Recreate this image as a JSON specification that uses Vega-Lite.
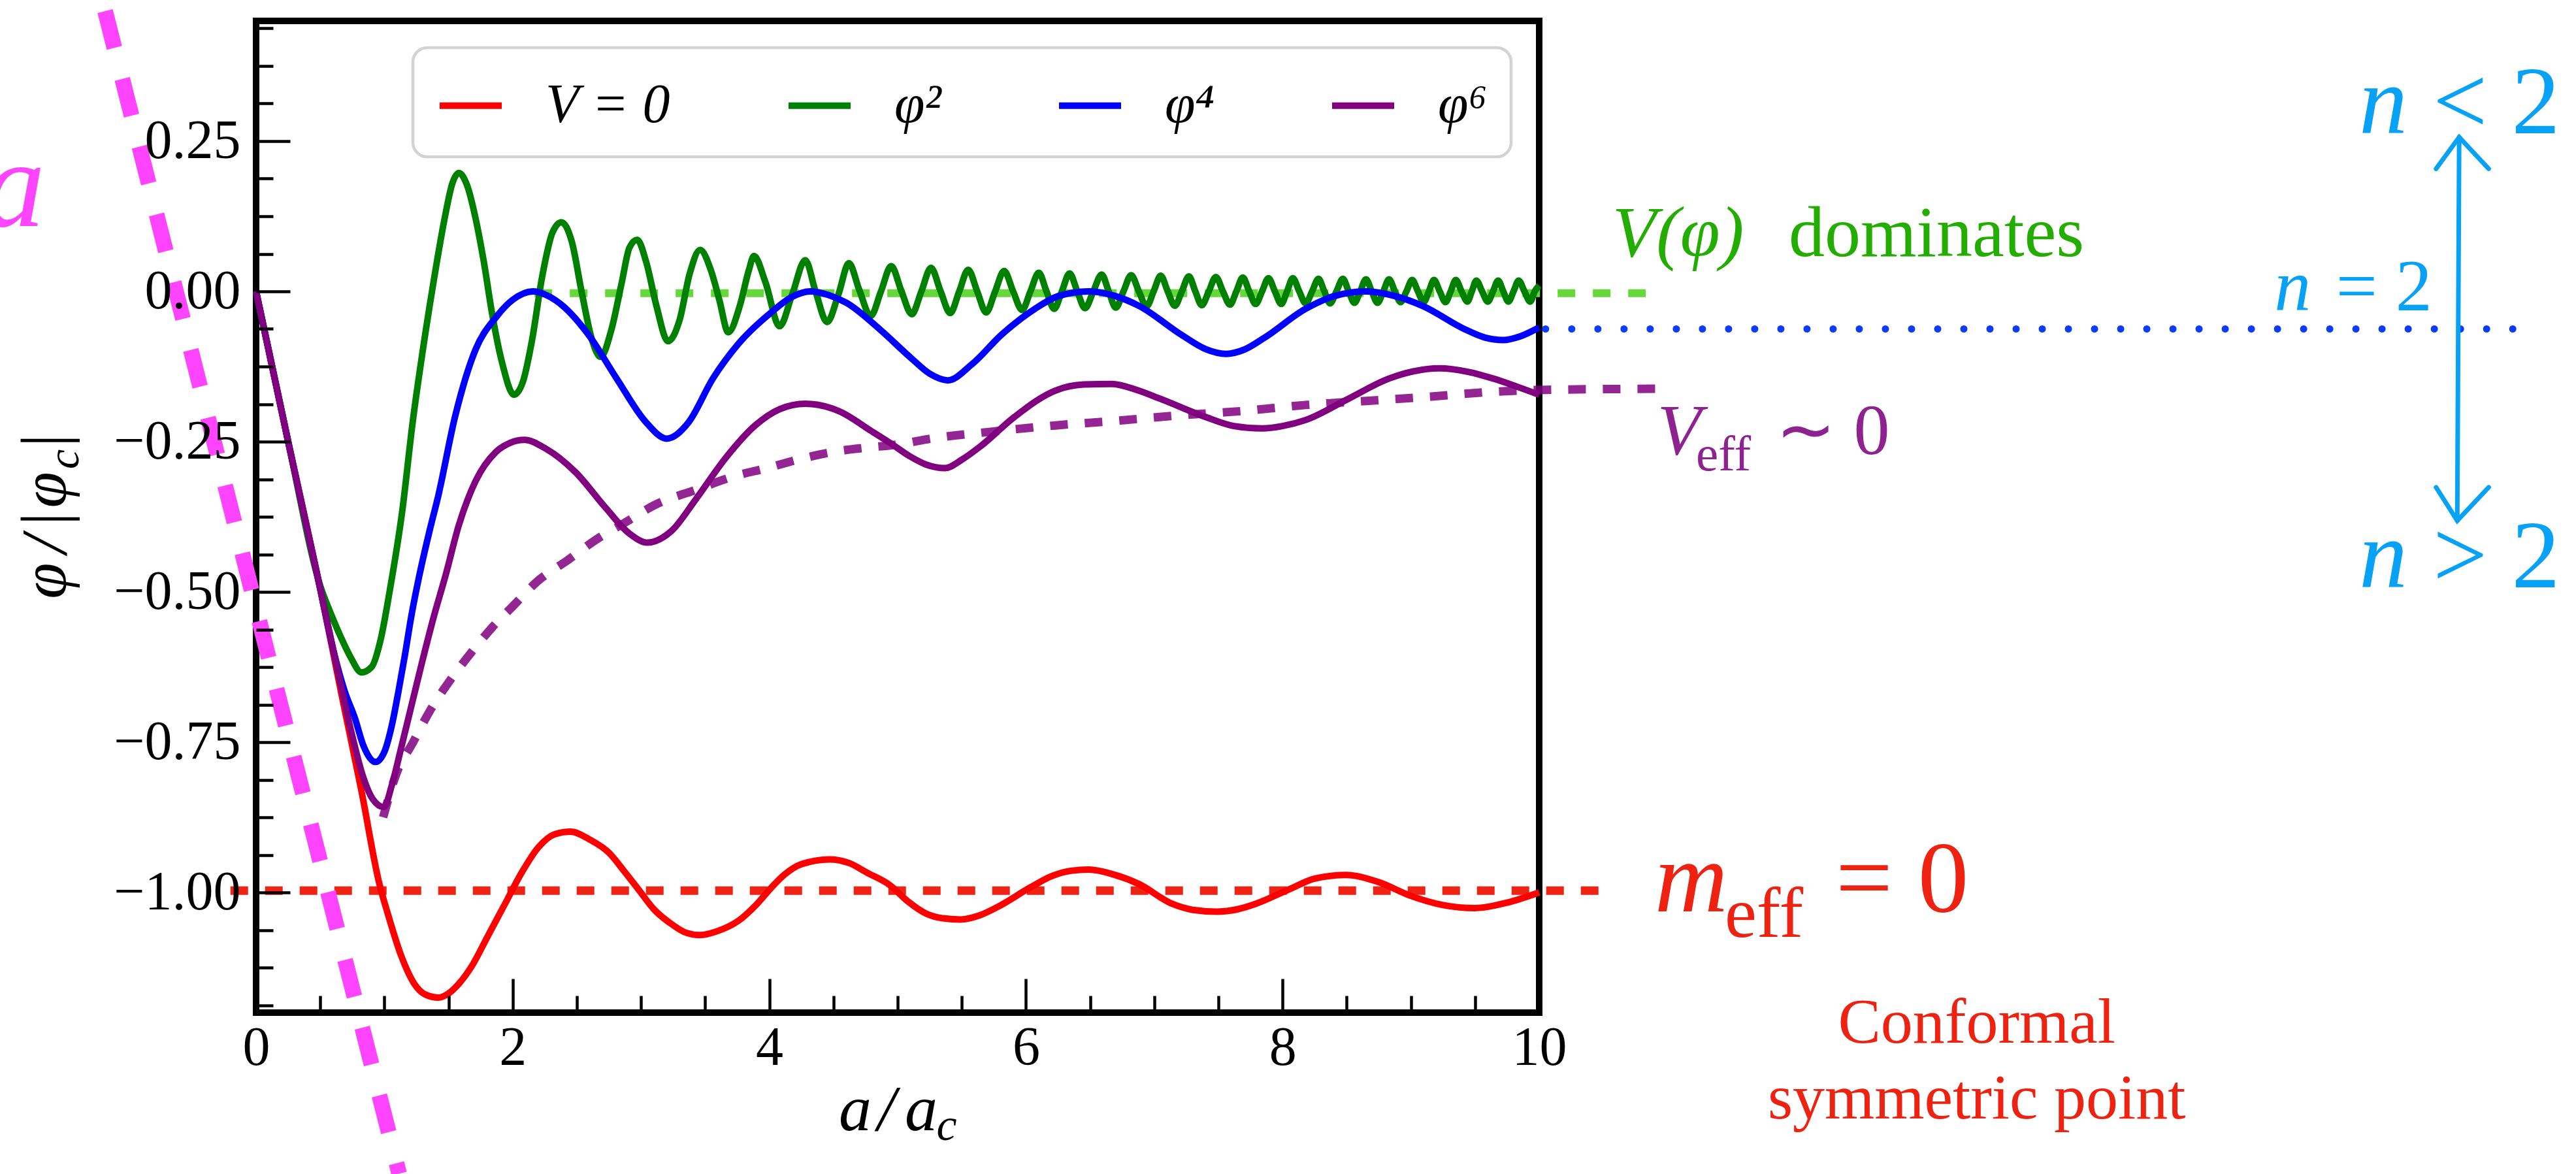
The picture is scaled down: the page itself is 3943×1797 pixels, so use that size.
{
"$schema": "https://vega.github.io/schema/vega-lite/v6.json",
"width": 1964, "height": 1518,
"autosize": {"type": "none"},
"padding": {"left": 392, "top": 32, "right": 1587, "bottom": 247},
"background": "white",
"config": {"view": {"stroke": "black", "strokeWidth": 10}, "legend": {"strokeWidth": 4.5}},
"datasets": {
"gx": [{"x":0.5},{"x":1},{"x":1.5},{"x":2},{"x":2.5},{"x":3},{"x":3.5},{"x":4},{"x":4.5},{"x":5},{"x":5.5},{"x":6},{"x":6.5},{"x":7},{"x":7.5},{"x":8},{"x":8.5},{"x":9},{"x":9.5}],
"gy": [{"y":-1.1875},{"y":-1.125},{"y":-1.0625},{"y":-1},{"y":-0.9375},{"y":-0.875},{"y":-0.8125},{"y":-0.75},{"y":-0.6875},{"y":-0.625},{"y":-0.5625},{"y":-0.5},{"y":-0.4375},{"y":-0.375},{"y":-0.3125},{"y":-0.25},{"y":-0.1875},{"y":-0.125},{"y":-0.0625},{"y":0},{"y":0.0625},{"y":0.125},{"y":0.1875},{"y":0.25},{"y":0.3125},{"y":0.375},{"y":0.4375}],
"curves": [
{"s":"V = 0","x":0,"y":0},{"s":"V = 0","x":0.25,"y":-0.25},{"s":"V = 0","x":0.5,"y":-0.495},{"s":"V = 0","x":0.67,"y":-0.675},{"s":"V = 0","x":0.82,"y":-0.83},{"s":"V = 0","x":0.96,"y":-0.985},{"s":"V = 0","x":1.03,"y":-1.038},{"s":"V = 0","x":1.13,"y":-1.105},{"s":"V = 0","x":1.23,"y":-1.151},{"s":"V = 0","x":1.32,"y":-1.17},{"s":"V = 0","x":1.42,"y":-1.175},{"s":"V = 0","x":1.5,"y":-1.168},{"s":"V = 0","x":1.58,"y":-1.152},{"s":"V = 0","x":1.68,"y":-1.123},{"s":"V = 0","x":1.81,"y":-1.071},{"s":"V = 0","x":1.94,"y":-1.019},{"s":"V = 0","x":2.07,"y":-0.967},{"s":"V = 0","x":2.2,"y":-0.925},{"s":"V = 0","x":2.33,"y":-0.903},{"s":"V = 0","x":2.45,"y":-0.899},{"s":"V = 0","x":2.6,"y":-0.912},{"s":"V = 0","x":2.75,"y":-0.934},{"s":"V = 0","x":2.87,"y":-0.965},{"s":"V = 0","x":2.98,"y":-0.995},{"s":"V = 0","x":3.1,"y":-1.028},{"s":"V = 0","x":3.24,"y":-1.053},{"s":"V = 0","x":3.35,"y":-1.067},{"s":"V = 0","x":3.46,"y":-1.071},{"s":"V = 0","x":3.6,"y":-1.064},{"s":"V = 0","x":3.76,"y":-1.047},{"s":"V = 0","x":3.9,"y":-1.02},{"s":"V = 0","x":4.02,"y":-0.991},{"s":"V = 0","x":4.12,"y":-0.97},{"s":"V = 0","x":4.25,"y":-0.953},{"s":"V = 0","x":4.47,"y":-0.945},{"s":"V = 0","x":4.62,"y":-0.951},{"s":"V = 0","x":4.76,"y":-0.967},{"s":"V = 0","x":4.94,"y":-0.988},{"s":"V = 0","x":5.08,"y":-1.015},{"s":"V = 0","x":5.22,"y":-1.035},{"s":"V = 0","x":5.35,"y":-1.043},{"s":"V = 0","x":5.49,"y":-1.045},{"s":"V = 0","x":5.64,"y":-1.038},{"s":"V = 0","x":5.78,"y":-1.024},{"s":"V = 0","x":6.04,"y":-0.991},{"s":"V = 0","x":6.2,"y":-0.973},{"s":"V = 0","x":6.35,"y":-0.964},{"s":"V = 0","x":6.49,"y":-0.962},{"s":"V = 0","x":6.68,"y":-0.97},{"s":"V = 0","x":6.88,"y":-0.986},{"s":"V = 0","x":7.14,"y":-1.019},{"s":"V = 0","x":7.3,"y":-1.029},{"s":"V = 0","x":7.49,"y":-1.032},{"s":"V = 0","x":7.65,"y":-1.028},{"s":"V = 0","x":7.79,"y":-1.019},{"s":"V = 0","x":8.05,"y":-0.995},{"s":"V = 0","x":8.25,"y":-0.977},{"s":"V = 0","x":8.49,"y":-0.971},{"s":"V = 0","x":8.75,"y":-0.983},{"s":"V = 0","x":8.99,"y":-1.005},{"s":"V = 0","x":9.25,"y":-1.021},{"s":"V = 0","x":9.5,"y":-1.026},{"s":"V = 0","x":9.75,"y":-1.017},{"s":"V = 0","x":10,"y":-1.0},
{"s":"φ²","x":0,"y":0},{"s":"φ²","x":0.25,"y":-0.25},{"s":"φ²","x":0.5,"y":-0.49},{"s":"φ²","x":0.58,"y":-0.535},{"s":"φ²","x":0.66,"y":-0.575},{"s":"φ²","x":0.74,"y":-0.61},{"s":"φ²","x":0.82,"y":-0.634},{"s":"φ²","x":0.9,"y":-0.625},{"s":"φ²","x":0.97,"y":-0.58},{"s":"φ²","x":1.04,"y":-0.5},{"s":"φ²","x":1.14,"y":-0.364},{"s":"φ²","x":1.22,"y":-0.218},{"s":"φ²","x":1.3,"y":-0.097},{"s":"φ²","x":1.39,"y":0.025},{"s":"φ²","x":1.47,"y":0.122},{"s":"φ²","x":1.53,"y":0.18},{"s":"φ²","x":1.58,"y":0.197},{"s":"φ²","x":1.645,"y":0.176},{"s":"φ²","x":1.71,"y":0.122},{"s":"φ²","x":1.775,"y":0.049},{"s":"φ²","x":1.84,"y":-0.038},{"s":"φ²","x":1.92,"y":-0.121},{"s":"φ²","x":2.01,"y":-0.172},{"s":"φ²","x":2.08,"y":-0.15},{"s":"φ²","x":2.15,"y":-0.082},{"s":"φ²","x":2.23,"y":0.025},{"s":"φ²","x":2.31,"y":0.098},{"s":"φ²","x":2.38,"y":0.115},{"s":"φ²","x":2.46,"y":0.083},{"s":"φ²","x":2.54,"y":-0.004},{"s":"φ²","x":2.62,"y":-0.082},{"s":"φ²","x":2.685,"y":-0.109},{"s":"φ²","x":2.77,"y":-0.063},{"s":"φ²","x":2.85,"y":0.015},{"s":"φ²","x":2.91,"y":0.073},{"s":"φ²","x":2.97,"y":0.086},{"s":"φ²","x":3.04,"y":0.049},{"s":"φ²","x":3.12,"y":-0.024},{"s":"φ²","x":3.21,"y":-0.083},{"s":"φ²","x":3.3,"y":-0.048},{"s":"φ²","x":3.38,"y":0.03},{"s":"φ²","x":3.46,"y":0.069},{"s":"φ²","x":3.545,"y":0.035},{"s":"φ²","x":3.61,"y":-0.014},{"s":"φ²","x":3.68,"y":-0.068},{"s":"φ²","x":3.77,"y":-0.024},{"s":"φ²","x":3.84,"y":0.035},{"s":"φ²","x":3.88,"y":0.059},{"s":"φ²","x":3.97,"y":0.015},{"s":"φ²","x":4.08,"y":-0.058},{"s":"φ²","x":4.18,"y":-0.004},{"s":"φ²","x":4.28,"y":0.052},{"s":"φ²","x":4.36,"y":0.0},{"s":"φ²","x":4.45,"y":-0.051},{"s":"φ²","x":4.54,"y":-0.004},{"s":"φ²","x":4.62,"y":0.047},{"s":"φ²","x":4.7,"y":0.003},{"s":"φ²","x":4.79,"y":-0.041},{"s":"φ²","x":4.87,"y":0.0},{"s":"φ²","x":4.95,"y":0.042},{"s":"φ²","x":5.03,"y":0.0},{"s":"φ²","x":5.11,"y":-0.038},{"s":"φ²","x":5.185,"y":0},{"s":"φ²","x":5.26,"y":0.039},{"s":"φ²","x":5.335,"y":0},{"s":"φ²","x":5.41,"y":-0.036},{"s":"φ²","x":5.48,"y":0},{"s":"φ²","x":5.55,"y":0.036},{"s":"φ²","x":5.62,"y":0},{"s":"φ²","x":5.69,"y":-0.035},{"s":"φ²","x":5.76,"y":0},{"s":"φ²","x":5.83,"y":0.034},{"s":"φ²","x":5.9,"y":0},{"s":"φ²","x":5.97,"y":-0.031},{"s":"φ²","x":6.035,"y":0},{"s":"φ²","x":6.1,"y":0.031},{"s":"φ²","x":6.16,"y":0},{"s":"φ²","x":6.22,"y":-0.029},{"s":"φ²","x":6.28,"y":0},{"s":"φ²","x":6.34,"y":0.03},{"s":"φ²","x":6.4,"y":0},{"s":"φ²","x":6.46,"y":-0.028},{"s":"φ²","x":6.525,"y":0},{"s":"φ²","x":6.59,"y":0.028},{"s":"φ²","x":6.645,"y":0},{"s":"φ²","x":6.7,"y":-0.027},{"s":"φ²","x":6.76,"y":0},{"s":"φ²","x":6.82,"y":0.027},{"s":"φ²","x":6.88,"y":0},{"s":"φ²","x":6.94,"y":-0.025},{"s":"φ²","x":6.995,"y":0},{"s":"φ²","x":7.05,"y":0.026},{"s":"φ²","x":7.105,"y":0},{"s":"φ²","x":7.16,"y":-0.024},{"s":"φ²","x":7.215,"y":0},{"s":"φ²","x":7.27,"y":0.025},{"s":"φ²","x":7.32,"y":0},{"s":"φ²","x":7.37,"y":-0.023},{"s":"φ²","x":7.425,"y":0},{"s":"φ²","x":7.48,"y":0.024},{"s":"φ²","x":7.535,"y":0},{"s":"φ²","x":7.59,"y":-0.022},{"s":"φ²","x":7.64,"y":0},{"s":"φ²","x":7.69,"y":0.023},{"s":"φ²","x":7.74,"y":0},{"s":"φ²","x":7.79,"y":-0.021},{"s":"φ²","x":7.84,"y":0},{"s":"φ²","x":7.89,"y":0.022},{"s":"φ²","x":7.94,"y":0},{"s":"φ²","x":7.99,"y":-0.021},{"s":"φ²","x":8.035,"y":0},{"s":"φ²","x":8.08,"y":0.022},{"s":"φ²","x":8.13,"y":0},{"s":"φ²","x":8.18,"y":-0.02},{"s":"φ²","x":8.23,"y":0},{"s":"φ²","x":8.28,"y":0.021},{"s":"φ²","x":8.325,"y":0},{"s":"φ²","x":8.37,"y":-0.02},{"s":"φ²","x":8.42,"y":0},{"s":"φ²","x":8.47,"y":0.021},{"s":"φ²","x":8.515,"y":0},{"s":"φ²","x":8.56,"y":-0.019},{"s":"φ²","x":8.605,"y":0},{"s":"φ²","x":8.65,"y":0.02},{"s":"φ²","x":8.695,"y":0},{"s":"φ²","x":8.74,"y":-0.019},{"s":"φ²","x":8.785,"y":0},{"s":"φ²","x":8.83,"y":0.02},{"s":"φ²","x":8.875,"y":0},{"s":"φ²","x":8.92,"y":-0.018},{"s":"φ²","x":8.965,"y":0},{"s":"φ²","x":9.01,"y":0.019},{"s":"φ²","x":9.055,"y":0},{"s":"φ²","x":9.1,"y":-0.018},{"s":"φ²","x":9.14,"y":0},{"s":"φ²","x":9.18,"y":0.019},{"s":"φ²","x":9.225,"y":0},{"s":"φ²","x":9.27,"y":-0.018},{"s":"φ²","x":9.31,"y":0},{"s":"φ²","x":9.35,"y":0.019},{"s":"φ²","x":9.395,"y":0},{"s":"φ²","x":9.44,"y":-0.017},{"s":"φ²","x":9.475,"y":0},{"s":"φ²","x":9.51,"y":0.018},{"s":"φ²","x":9.555,"y":0},{"s":"φ²","x":9.6,"y":-0.017},{"s":"φ²","x":9.64,"y":0},{"s":"φ²","x":9.68,"y":0.018},{"s":"φ²","x":9.72,"y":0},{"s":"φ²","x":9.76,"y":-0.017},{"s":"φ²","x":9.8,"y":0},{"s":"φ²","x":9.84,"y":0.018},{"s":"φ²","x":9.885,"y":0},{"s":"φ²","x":9.93,"y":-0.017},{"s":"φ²","x":9.965,"y":0},{"s":"φ²","x":10,"y":0.01},
{"s":"φ⁴","x":0,"y":0},{"s":"φ⁴","x":0.25,"y":-0.25},{"s":"φ⁴","x":0.5,"y":-0.495},{"s":"φ⁴","x":0.6,"y":-0.595},{"s":"φ⁴","x":0.69,"y":-0.665},{"s":"φ⁴","x":0.77,"y":-0.71},{"s":"φ⁴","x":0.835,"y":-0.755},{"s":"φ⁴","x":0.93,"y":-0.783},{"s":"φ⁴","x":1.0,"y":-0.766},{"s":"φ⁴","x":1.06,"y":-0.72},{"s":"φ⁴","x":1.11,"y":-0.665},{"s":"φ⁴","x":1.16,"y":-0.605},{"s":"φ⁴","x":1.21,"y":-0.54},{"s":"φ⁴","x":1.27,"y":-0.475},{"s":"φ⁴","x":1.35,"y":-0.4},{"s":"φ⁴","x":1.42,"y":-0.34},{"s":"φ⁴","x":1.55,"y":-0.209},{"s":"φ⁴","x":1.71,"y":-0.097},{"s":"φ⁴","x":1.87,"y":-0.043},{"s":"φ⁴","x":2.0,"y":-0.014},{"s":"φ⁴","x":2.16,"y":0.0},{"s":"φ⁴","x":2.28,"y":-0.008},{"s":"φ⁴","x":2.39,"y":-0.024},{"s":"φ⁴","x":2.59,"y":-0.072},{"s":"φ⁴","x":2.81,"y":-0.145},{"s":"φ⁴","x":3.04,"y":-0.218},{"s":"φ⁴","x":3.2,"y":-0.245},{"s":"φ⁴","x":3.37,"y":-0.218},{"s":"φ⁴","x":3.56,"y":-0.145},{"s":"φ⁴","x":3.76,"y":-0.087},{"s":"φ⁴","x":4.02,"y":-0.034},{"s":"φ⁴","x":4.17,"y":-0.01},{"s":"φ⁴","x":4.32,"y":0.0},{"s":"φ⁴","x":4.46,"y":-0.006},{"s":"φ⁴","x":4.6,"y":-0.019},{"s":"φ⁴","x":4.86,"y":-0.063},{"s":"φ⁴","x":5.1,"y":-0.11},{"s":"φ⁴","x":5.25,"y":-0.137},{"s":"φ⁴","x":5.39,"y":-0.148},{"s":"φ⁴","x":5.58,"y":-0.121},{"s":"φ⁴","x":5.81,"y":-0.072},{"s":"φ⁴","x":6.07,"y":-0.029},{"s":"φ⁴","x":6.25,"y":-0.008},{"s":"φ⁴","x":6.49,"y":0.0},{"s":"φ⁴","x":6.7,"y":-0.008},{"s":"φ⁴","x":6.88,"y":-0.024},{"s":"φ⁴","x":7.21,"y":-0.072},{"s":"φ⁴","x":7.4,"y":-0.096},{"s":"φ⁴","x":7.56,"y":-0.104},{"s":"φ⁴","x":7.7,"y":-0.097},{"s":"φ⁴","x":7.86,"y":-0.077},{"s":"φ⁴","x":8.18,"y":-0.029},{"s":"φ⁴","x":8.4,"y":-0.008},{"s":"φ⁴","x":8.65,"y":0.0},{"s":"φ⁴","x":8.88,"y":-0.008},{"s":"φ⁴","x":9.09,"y":-0.024},{"s":"φ⁴","x":9.42,"y":-0.063},{"s":"φ⁴","x":9.58,"y":-0.077},{"s":"φ⁴","x":9.72,"y":-0.081},{"s":"φ⁴","x":9.85,"y":-0.075},{"s":"φ⁴","x":10,"y":-0.06},
{"s":"φ⁶","x":0,"y":0},{"s":"φ⁶","x":0.25,"y":-0.25},{"s":"φ⁶","x":0.5,"y":-0.495},{"s":"φ⁶","x":0.65,"y":-0.645},{"s":"φ⁶","x":0.75,"y":-0.74},{"s":"φ⁶","x":0.83,"y":-0.805},{"s":"φ⁶","x":0.91,"y":-0.845},{"s":"φ⁶","x":0.995,"y":-0.858},{"s":"φ⁶","x":1.06,"y":-0.82},{"s":"φ⁶","x":1.13,"y":-0.76},{"s":"φ⁶","x":1.21,"y":-0.69},{"s":"φ⁶","x":1.29,"y":-0.62},{"s":"φ⁶","x":1.38,"y":-0.545},{"s":"φ⁶","x":1.48,"y":-0.47},{"s":"φ⁶","x":1.58,"y":-0.389},{"s":"φ⁶","x":1.71,"y":-0.316},{"s":"φ⁶","x":1.87,"y":-0.267},{"s":"φ⁶","x":1.98,"y":-0.252},{"s":"φ⁶","x":2.09,"y":-0.247},{"s":"φ⁶","x":2.26,"y":-0.262},{"s":"φ⁶","x":2.49,"y":-0.301},{"s":"φ⁶","x":2.72,"y":-0.359},{"s":"φ⁶","x":2.91,"y":-0.403},{"s":"φ⁶","x":3.05,"y":-0.418},{"s":"φ⁶","x":3.24,"y":-0.398},{"s":"φ⁶","x":3.43,"y":-0.345},{"s":"φ⁶","x":3.66,"y":-0.277},{"s":"φ⁶","x":3.89,"y":-0.223},{"s":"φ⁶","x":4.08,"y":-0.196},{"s":"φ⁶","x":4.28,"y":-0.187},{"s":"φ⁶","x":4.54,"y":-0.199},{"s":"φ⁶","x":4.8,"y":-0.233},{"s":"φ⁶","x":4.94,"y":-0.252},{"s":"φ⁶","x":5.1,"y":-0.275},{"s":"φ⁶","x":5.22,"y":-0.288},{"s":"φ⁶","x":5.37,"y":-0.294},{"s":"φ⁶","x":5.5,"y":-0.28},{"s":"φ⁶","x":5.65,"y":-0.257},{"s":"φ⁶","x":5.91,"y":-0.209},{"s":"φ⁶","x":6.23,"y":-0.165},{"s":"φ⁶","x":6.45,"y":-0.155},{"s":"φ⁶","x":6.67,"y":-0.154},{"s":"φ⁶","x":6.85,"y":-0.163},{"s":"φ⁶","x":7.05,"y":-0.179},{"s":"φ⁶","x":7.4,"y":-0.209},{"s":"φ⁶","x":7.62,"y":-0.224},{"s":"φ⁶","x":7.84,"y":-0.228},{"s":"φ⁶","x":8.0,"y":-0.224},{"s":"φ⁶","x":8.18,"y":-0.214},{"s":"φ⁶","x":8.51,"y":-0.179},{"s":"φ⁶","x":8.83,"y":-0.145},{"s":"φ⁶","x":9.02,"y":-0.133},{"s":"φ⁶","x":9.22,"y":-0.128},{"s":"φ⁶","x":9.45,"y":-0.134},{"s":"φ⁶","x":9.64,"y":-0.145},{"s":"φ⁶","x":9.82,"y":-0.158},{"s":"φ⁶","x":10,"y":-0.172}
],
"guides": [
{"g":"red","x":-0.2,"y":-0.997},{"g":"red","x":10.55,"y":-0.997},
{"g":"green","x":2.17,"y":-0.003},{"g":"green","x":10.9,"y":-0.003},
{"g":"blue","x":10.05,"y":-0.0625},{"g":"blue","x":17.6,"y":-0.0625},
{"g":"magenta","x":-1.1767,"y":0.4663},{"g":"magenta","x":1.115,"y":-1.468},
{"g":"purple","x":0.99,"y":-0.875},{"g":"purple","x":1.094,"y":-0.802},{"g":"purple","x":1.224,"y":-0.75},{"g":"purple","x":1.354,"y":-0.698},{"g":"purple","x":1.516,"y":-0.646},{"g":"purple","x":1.68,"y":-0.6},{"g":"purple","x":1.84,"y":-0.559},{"g":"purple","x":2.0,"y":-0.524},{"g":"purple","x":2.2,"y":-0.481},{"g":"purple","x":2.43,"y":-0.447},{"g":"purple","x":2.65,"y":-0.413},{"g":"purple","x":2.88,"y":-0.384},{"g":"purple","x":3.11,"y":-0.355},{"g":"purple","x":3.43,"y":-0.33},{"g":"purple","x":3.72,"y":-0.308},{"g":"purple","x":3.98,"y":-0.294},{"g":"purple","x":4.24,"y":-0.279},{"g":"purple","x":4.5,"y":-0.267},{"g":"purple","x":4.76,"y":-0.26},{"g":"purple","x":4.99,"y":-0.255},{"g":"purple","x":5.26,"y":-0.245},{"g":"purple","x":5.75,"y":-0.233},{"g":"purple","x":6.23,"y":-0.223},{"g":"purple","x":6.72,"y":-0.215},{"g":"purple","x":7.21,"y":-0.206},{"g":"purple","x":7.69,"y":-0.199},{"g":"purple","x":8.18,"y":-0.189},{"g":"purple","x":8.67,"y":-0.182},{"g":"purple","x":9.16,"y":-0.175},{"g":"purple","x":9.64,"y":-0.167},{"g":"purple","x":10.0,"y":-0.164},{"g":"purple","x":10.99,"y":-0.162}
],
"arrow": [
{"p":"shaft","o":1,"x":17.17,"y":0.2565},{"p":"shaft","o":2,"x":17.155,"y":-0.3815},
{"p":"top","o":1,"x":16.99,"y":0.204},{"p":"top","o":2,"x":17.17,"y":0.2565},{"p":"top","o":3,"x":17.4,"y":0.204},
{"p":"bot","o":1,"x":16.99,"y":-0.326},{"p":"bot","o":2,"x":17.155,"y":-0.3815},{"p":"bot","o":3,"x":17.4,"y":-0.326}
],
"txt": [
{"g":"a","t":"a","x":-1.645,"y":0.1087},
{"g":"vphi","t":"V(φ)","x":10.57,"y":0.0587},
{"g":"dom","t":"dominates","x":11.945,"y":0.0587},
{"g":"veffV","t":"V","x":10.92,"y":-0.2707},
{"g":"veffS","t":"eff","x":11.222,"y":-0.298},
{"g":"veffR","t":"∼ 0","x":11.843,"y":-0.2707},
{"g":"meffM","t":"m","x":10.9,"y":-1.0315},
{"g":"meffS","t":"eff","x":11.446,"y":-1.074},
{"g":"meffR","t":"= 0","x":12.31,"y":-1.0315},
{"g":"conf","t":"Conformal\nsymmetric point","x":13.41,"y":-1.25},
{"g":"nBig","t":"n","x":16.39,"y":0.263},{"g":"nBig","t":"n","x":16.39,"y":-0.492},
{"g":"relBig","t":"< 2","x":16.965,"y":0.263},{"g":"relBig","t":"> 2","x":16.965,"y":-0.492},
{"g":"nSmall","t":"n","x":15.73,"y":-0.0315},
{"g":"relSmall","t":"= 2","x":16.21,"y":-0.0315},
{"g":"xt","t":"a","x":4.669,"y":-1.3957},{"g":"xt","t":"/","x":4.913,"y":-1.3957},{"g":"xt","t":"a","x":5.183,"y":-1.3957},
{"g":"xts","t":"c","x":5.382,"y":-1.412},
{"g":"yt","t":"φ","x":-1.482,"y":-0.4815},{"g":"yt","t":"/","x":-1.482,"y":-0.4207},{"g":"yt","t":"|","x":-1.482,"y":-0.3804},{"g":"yt","t":"φ","x":-1.482,"y":-0.3304},{"g":"yt","t":"|","x":-1.482,"y":-0.25},
{"g":"yts","t":"c","x":-1.385,"y":-0.2793}
]
},
"encoding": {
"x": {"field": "x", "type": "quantitative", "scale": {"domain": [0, 10], "nice": false, "zero": false},
 "axis": {"values": [0,0.5,1,1.5,2,2.5,3,3.5,4,4.5,5,5.5,6,6.5,7,7.5,8,8.5,9,9.5,10], "title": null, "grid": false, "domain": false, "ticks": true, "tickColor": "black", "tickWidth": 4.5,
 "tickSize": {"condition": {"test": "datum.value % 2 === 0", "value": -52}, "value": -26},
 "labelExpr": "datum.value % 2 === 0 ? format(datum.value, 'd') : ''", "labelFont": "Liberation Serif", "labelFontSize": 84, "labelColor": "black", "labelPadding": 65, "labelFlush": false, "labelOverlap": false, "labelLimit": 0, "zindex": 1}},
"y": {"field": "y", "type": "quantitative", "scale": {"domain": [-1.2, 0.45], "nice": false, "zero": false},
 "axis": {"values": [-1.1875,-1.125,-1.0625,-1,-0.9375,-0.875,-0.8125,-0.75,-0.6875,-0.625,-0.5625,-0.5,-0.4375,-0.375,-0.3125,-0.25,-0.1875,-0.125,-0.0625,0,0.0625,0.125,0.1875,0.25,0.3125,0.375,0.4375], "title": null, "grid": false, "domain": false, "ticks": true, "tickColor": "black", "tickWidth": 4.5,
 "tickSize": {"condition": {"test": "datum.value % 0.25 === 0", "value": -52}, "value": -26},
 "labelExpr": "datum.value % 0.25 === 0 ? format(datum.value, '.2f') : ''", "labelFont": "Liberation Serif", "labelFontSize": 84, "labelColor": "black", "labelPadding": 76, "labelFlush": false, "labelOverlap": false, "labelLimit": 0, "zindex": 1}}
},
"layer": [
{"data": {"name": "gx"}, "mark": {"type": "rule", "color": "#d3d3d3", "strokeWidth": 3}, "encoding": {"y": {"datum": -1.2}, "y2": {"datum": 0.45}}},
{"data": {"name": "gy"}, "mark": {"type": "rule", "color": "#d3d3d3", "strokeWidth": 3}, "encoding": {"x": {"datum": 0}, "x2": {"datum": 10}}},
{"data": {"name": "guides"}, "transform": [{"filter": "datum.g === 'red'"}], "mark": {"type": "line", "color": "#ee2314", "strokeWidth": 13, "strokeDash": [27, 26]}, "encoding": {}},
{"data": {"name": "guides"}, "transform": [{"filter": "datum.g === 'green'"}], "mark": {"type": "line", "color": "#66d83c", "strokeWidth": 12, "strokeDash": [27, 27]}, "encoding": {}},
{"data": {"name": "curves"}, "mark": {"type": "line", "strokeWidth": 10, "interpolate": "monotone"},
 "encoding": {"color": {"field": "s", "type": "nominal", "scale": {"domain": ["V = 0", "φ²", "φ⁴", "φ⁶"], "range": ["#ff0000", "#008000", "#0000ff", "#800080"]},
  "legend": {"orient": "none", "legendX": 240, "legendY": 41, "direction": "horizontal", "title": null, "symbolType": "stroke", "symbolSize": 9025, "symbolStrokeWidth": 10, "labelFontSize": 84, "labelFont": "Liberation Serif", "labelFontStyle": "italic", "labelColor": "black", "labelLimit": 0, "labelOffset": 62, "columnPadding": 160, "padding": 36, "cornerRadius": 22, "strokeColor": "#d3d3d3", "fillColor": "rgba(255,255,255,0.8)"}}}},
{"data": {"name": "guides"}, "transform": [{"filter": "datum.g === 'purple'"}], "mark": {"type": "line", "color": "#800080", "opacity": 0.85, "strokeWidth": 13, "strokeDash": [27, 26], "interpolate": "monotone"}, "encoding": {}},
{"data": {"name": "guides"}, "transform": [{"filter": "datum.g === 'blue'"}], "mark": {"type": "line", "color": "#0a3cff", "strokeWidth": 11, "strokeDash": [0.01, 40], "strokeCap": "round"}, "encoding": {}},
{"data": {"name": "arrow"}, "mark": {"type": "line", "color": "#07a2f6", "strokeWidth": 7, "strokeCap": "round"}, "encoding": {"detail": {"field": "p"}, "order": {"field": "o", "type": "quantitative"}}},
{"data": {"name": "guides"}, "transform": [{"filter": "datum.g === 'magenta'"}], "mark": {"type": "line", "color": "#ff44ff", "strokeWidth": 24, "strokeDash": [58, 49]}, "encoding": {}},
{"data": {"name": "txt"}, "transform": [{"filter": "datum.g === 'a'"}], "mark": {"type": "text", "font": "Liberation Serif", "fontStyle": "italic", "fontSize": 190, "color": "#ff44ff", "align": "right", "baseline": "alphabetic"}, "encoding": {"text": {"field": "t"}}},
{"data": {"name": "txt"}, "transform": [{"filter": "datum.g === 'vphi'"}], "mark": {"type": "text", "font": "Liberation Serif", "fontStyle": "italic", "fontSize": 110, "color": "#22ad00", "align": "left", "baseline": "alphabetic"}, "encoding": {"text": {"field": "t"}}},
{"data": {"name": "txt"}, "transform": [{"filter": "datum.g === 'dom'"}], "mark": {"type": "text", "font": "Liberation Serif", "fontSize": 110, "color": "#22ad00", "align": "left", "baseline": "alphabetic"}, "encoding": {"text": {"field": "t"}}},
{"data": {"name": "txt"}, "transform": [{"filter": "datum.g === 'veffV'"}], "mark": {"type": "text", "font": "Liberation Serif", "fontStyle": "italic", "fontSize": 110, "color": "#8e2290", "align": "left", "baseline": "alphabetic"}, "encoding": {"text": {"field": "t"}}},
{"data": {"name": "txt"}, "transform": [{"filter": "datum.g === 'veffS'"}], "mark": {"type": "text", "font": "Liberation Serif", "fontSize": 77, "color": "#8e2290", "align": "left", "baseline": "alphabetic"}, "encoding": {"text": {"field": "t"}}},
{"data": {"name": "txt"}, "transform": [{"filter": "datum.g === 'veffR'"}], "mark": {"type": "text", "font": "Liberation Serif", "fontSize": 110, "color": "#8e2290", "align": "left", "baseline": "alphabetic"}, "encoding": {"text": {"field": "t"}}},
{"data": {"name": "txt"}, "transform": [{"filter": "datum.g === 'meffM'"}], "mark": {"type": "text", "font": "Liberation Serif", "fontStyle": "italic", "fontSize": 155, "color": "#ee2211", "align": "left", "baseline": "alphabetic"}, "encoding": {"text": {"field": "t"}}},
{"data": {"name": "txt"}, "transform": [{"filter": "datum.g === 'meffS'"}], "mark": {"type": "text", "font": "Liberation Serif", "fontSize": 110, "color": "#ee2211", "align": "left", "baseline": "alphabetic"}, "encoding": {"text": {"field": "t"}}},
{"data": {"name": "txt"}, "transform": [{"filter": "datum.g === 'meffR'"}], "mark": {"type": "text", "font": "Liberation Serif", "fontSize": 155, "color": "#ee2211", "align": "left", "baseline": "alphabetic"}, "encoding": {"text": {"field": "t"}}},
{"data": {"name": "txt"}, "transform": [{"filter": "datum.g === 'conf'"}], "mark": {"type": "text", "font": "Liberation Serif", "fontSize": 98, "lineHeight": 116, "lineBreak": "\n", "color": "#ee2211", "align": "center", "baseline": "alphabetic"}, "encoding": {"text": {"field": "t"}}},
{"data": {"name": "txt"}, "transform": [{"filter": "datum.g === 'nBig'"}], "mark": {"type": "text", "font": "Liberation Serif", "fontStyle": "italic", "fontSize": 148, "color": "#07a2f6", "align": "left", "baseline": "alphabetic"}, "encoding": {"text": {"field": "t"}}},
{"data": {"name": "txt"}, "transform": [{"filter": "datum.g === 'relBig'"}], "mark": {"type": "text", "font": "Liberation Serif", "fontSize": 148, "color": "#07a2f6", "align": "left", "baseline": "alphabetic"}, "encoding": {"text": {"field": "t"}}},
{"data": {"name": "txt"}, "transform": [{"filter": "datum.g === 'nSmall'"}], "mark": {"type": "text", "font": "Liberation Serif", "fontStyle": "italic", "fontSize": 112, "color": "#07a2f6", "align": "left", "baseline": "alphabetic"}, "encoding": {"text": {"field": "t"}}},
{"data": {"name": "txt"}, "transform": [{"filter": "datum.g === 'relSmall'"}], "mark": {"type": "text", "font": "Liberation Serif", "fontSize": 112, "color": "#07a2f6", "align": "left", "baseline": "alphabetic"}, "encoding": {"text": {"field": "t"}}},
{"data": {"name": "txt"}, "transform": [{"filter": "datum.g === 'xt'"}], "mark": {"type": "text", "font": "Liberation Serif", "fontStyle": "italic", "fontSize": 100, "color": "black", "align": "center", "baseline": "alphabetic"}, "encoding": {"text": {"field": "t"}}},
{"data": {"name": "txt"}, "transform": [{"filter": "datum.g === 'xts'"}], "mark": {"type": "text", "font": "Liberation Serif", "fontStyle": "italic", "fontSize": 70, "color": "black", "align": "center", "baseline": "alphabetic"}, "encoding": {"text": {"field": "t"}}},
{"data": {"name": "txt"}, "transform": [{"filter": "datum.g === 'yt'"}], "mark": {"type": "text", "font": "Liberation Serif", "fontStyle": "italic", "fontSize": 100, "color": "black", "align": "center", "baseline": "alphabetic", "angle": 270}, "encoding": {"text": {"field": "t"}}},
{"data": {"name": "txt"}, "transform": [{"filter": "datum.g === 'yts'"}], "mark": {"type": "text", "font": "Liberation Serif", "fontStyle": "italic", "fontSize": 68, "color": "black", "align": "center", "baseline": "alphabetic", "angle": 270}, "encoding": {"text": {"field": "t"}}}
]
}
